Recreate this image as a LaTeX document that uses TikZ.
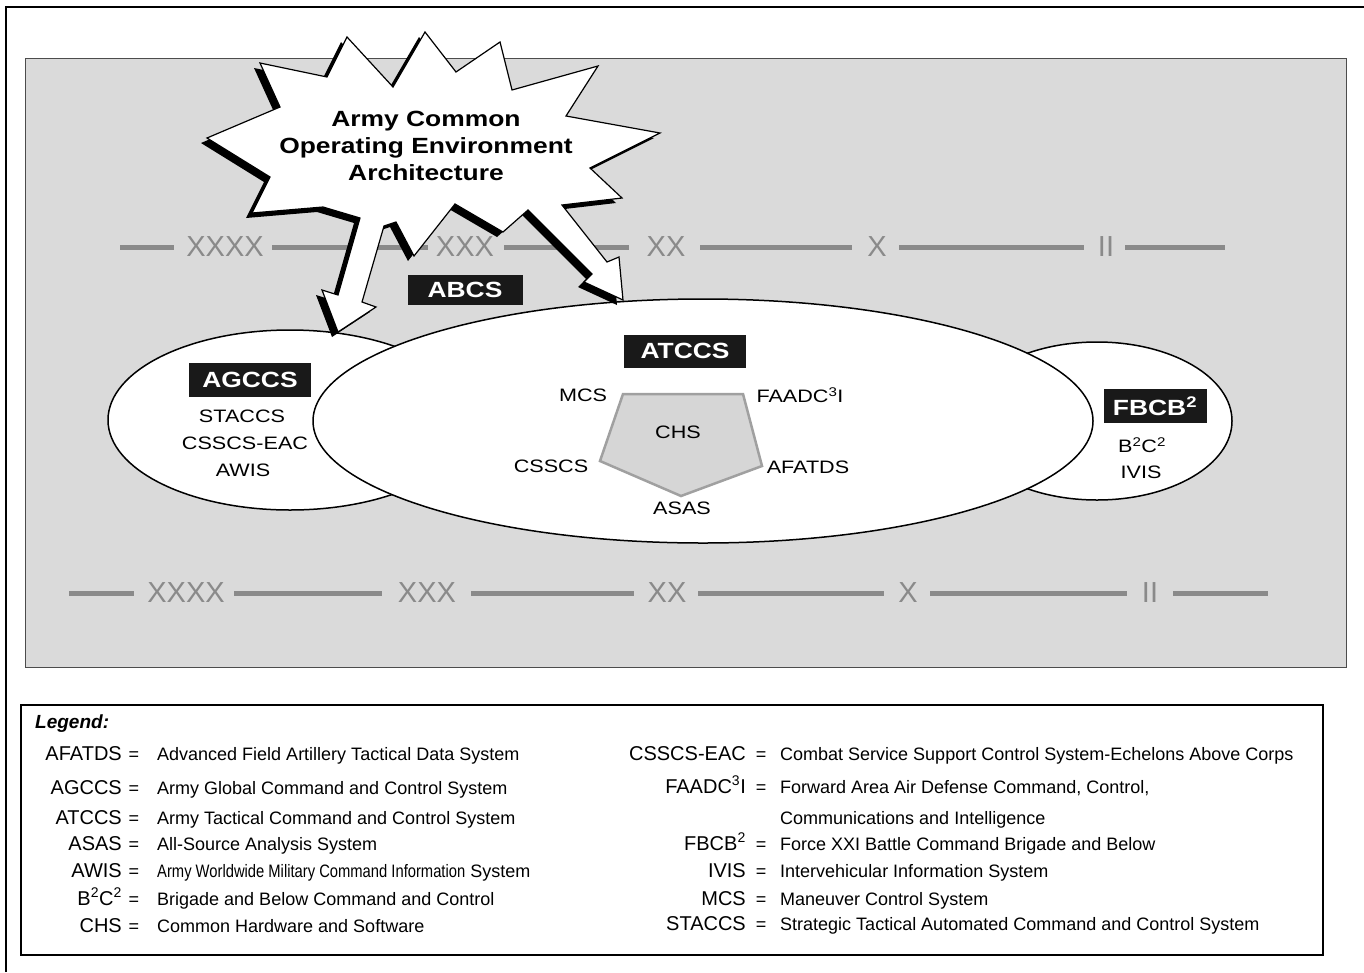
\documentclass[tikz,border=0pt]{standalone}
\usepackage{fontspec}
\usepackage{graphicx}
\setmainfont{Liberation Sans}
\newfontfamily\diagfont[FakeStretch=1.2]{Liberation Sans}
\usetikzlibrary{shapes.geometric}
\definecolor{panelGray}{RGB}{218,218,218}
\definecolor{rankGray}{RGB}{138,138,138}
\definecolor{penGray}{RGB}{160,160,160}
\definecolor{penFill}{RGB}{214,214,214}
\tikzset{
  frame/.style={line width=2.2pt},
  panel/.style={draw=black!70, line width=0.8pt, fill=panelGray},
  sysell/.style={draw, ellipse, line width=1.5pt, fill=white, inner sep=0pt},
  tagbox/.style={fill=black!90, text=white, inner sep=0pt, font=\diagfont\fontsize{22}{22}\selectfont\bfseries},
  sys/.style={inner sep=0pt, font=\diagfont\fontsize{18}{18}\selectfont},
  rank/.style={text=rankGray, inner sep=0pt, font=\fontsize{29}{29}\selectfont},
  rankbar/.style={draw=rankGray, line width=5pt},
  burst/.style={draw, fill=white, line width=1.2pt, line join=miter,
    preaction={fill=black, transform canvas={shift={(-6pt,-5pt)}}}},
  bursttext/.style={align=center, inner sep=0pt, font=\diagfont\fontsize{22}{27}\selectfont\bfseries},
  pentagon/.style={draw=penGray, fill=penFill, line width=2.5pt, line join=miter},
  legendbox/.style={draw, line width=2pt, inner sep=0pt},
  abbr/.style={anchor=base east, inner sep=0pt, font=\fontsize{20}{20}\selectfont},
  eqs/.style={anchor=base, inner sep=0pt, font=\fontsize{18}{18}\selectfont},
  desc/.style={anchor=base west, inner sep=0pt, font=\fontsize{18}{18}\selectfont}
}

\begin{document}
\begin{tikzpicture}[x=1pt,y=1pt]
  \useasboundingbox (0,0) rectangle (1364,-972);
  \draw[frame] (6,-972) -- (6,-7) -- (1364,-7);

  % shaded panel
  \draw[panel] (25,-58) rectangle (1346,-667);

  % echelon rows
  \foreach \a/\b in {120/174, 272/428, 504/629, 700/852, 899/1084, 1125/1225}
    \draw[rankbar] (\a,-247) -- (\b,-247);
  \foreach \t/\x in {XXXX/225, XXX/465, XX/666, X/877, II/1106}
    \node[rank] (top\t) at (\x,-247) {\t};
  \foreach \a/\b in {69/134, 234/382, 471/634, 698/884, 930/1127, 1173/1268}
    \draw[rankbar] (\a,-593) -- (\b,-593);
  \foreach \t/\x in {XXXX/186, XXX/427, XX/667, X/908, II/1150}
    \node[rank] (bot\t) at (\x,-593) {\t};

  % systems
  \node[sysell, minimum width=364, minimum height=180] (agccsell) at (290,-420) {};
  \node[sysell, minimum width=270, minimum height=158] (fbcbell) at (1097,-421) {};
  \node[sysell, minimum width=780, minimum height=244] (atccsell) at (703,-421) {};
  \draw[pentagon] (623,-394) -- (743,-394) -- (762,-466) -- (681,-496) -- (600,-461) -- cycle;

  \node[tagbox, minimum width=122, minimum height=34] (agccs) at (250,-380) {AGCCS};
  \node[sys] (staccs) at (242,-416) {STACCS};
  \node[sys] (csscseac) at (245,-443) {CSSCS-EAC};
  \node[sys] (awis) at (243,-470) {AWIS};

  \node[tagbox, minimum width=122, minimum height=33] (atccs) at (685,-351) {ATCCS};
  \node[sys] (mcs) at (583,-395) {MCS};
  \node[sys] (faadc) at (800,-395) {FAADC\textsuperscript{3}I};
  \node[sys] (chs) at (678,-432) {CHS};
  \node[sys] (csscs) at (551,-466) {CSSCS};
  \node[sys] (afatds) at (808,-467) {AFATDS};
  \node[sys] (asas) at (682,-508) {ASAS};

  \node[tagbox, minimum width=103, minimum height=34] (fbcb) at (1155,-406) {FBCB\textsuperscript{2}};
  \node[sys] (bcc) at (1142,-445) {B\textsuperscript{2}C\textsuperscript{2}};
  \node[sys] (ivis) at (1141,-472) {IVIS};

  % starburst with its two arrows
  \filldraw[burst] (425,-32) -- (456,-72) -- (500,-42) -- (512,-90) -- (598,-66)
    -- (566,-116) -- (660,-133) -- (590,-168) -- (622,-198) -- (562,-205)
    -- (607,-262) -- (619,-257) -- (623,-300) -- (584,-282) -- (592,-274)
    -- (528,-210) -- (503,-232) -- (455,-204) -- (414,-256) -- (396,-222)
    -- (384,-226) -- (362,-302) -- (376,-307) -- (338,-332) -- (322,-290)
    -- (338,-295) -- (360,-218) -- (323,-207) -- (252,-213) -- (270,-177)
    -- (207,-138) -- (280,-107) -- (260,-63) -- (327,-77) -- (347,-37)
    -- (393,-87) -- cycle;
  \node[bursttext] (acoe) at (426,-146) {Army Common\\Operating Environment\\Architecture};
  \node[tagbox, minimum width=115, minimum height=30] (abcs) at (465,-290) {ABCS};

  % legend
  \node[legendbox, minimum width=1302, minimum height=250] (legend) at (672,-830) {};
  \node[anchor=base west, inner sep=0pt, font=\fontsize{19}{19}\selectfont\bfseries\itshape] (legtitle) at (35,-728) {Legend:};

  \foreach \ab/\tx/\y in {AFATDS/Advanced Field Artillery Tactical Data System/760,
      AGCCS/Army Global Command and Control System/794,
      ATCCS/Army Tactical Command and Control System/824,
      ASAS/All-Source Analysis System/850,
      CHS/Common Hardware and Software/932}{
    \node[abbr] (l\ab) at (122,-\y) {\ab};
    \node[eqs] at (134,-\y) {=};
    \node[desc] at (157,-\y) {\tx};
  }
  \node[abbr] (lAWIS) at (122,-877) {AWIS};
  \node[eqs] (eAWIS) at (134,-877) {=};
  \node[desc] (dAWIS) at (157,-877) {\scalebox{0.82}[1]{Army Worldwide Military Command Information} System};
  \node[abbr] (lBCC) at (122,-905) {B\textsuperscript{2}C\textsuperscript{2}};
  \node[eqs] (eBCC) at (134,-905) {=};
  \node[desc] (dBCC) at (157,-905) {Brigade and Below Command and Control};

  \foreach \ab/\tx/\y in {CSSCS-EAC/Combat Service Support Control System-Echelons Above Corps/760,
      IVIS/Intervehicular Information System/877,
      MCS/Maneuver Control System/905,
      STACCS/Strategic Tactical Automated Command and Control System/930}{
    \node[abbr] (r\ab) at (746,-\y) {\ab};
    \node[eqs] at (761,-\y) {=};
    \node[desc] at (780,-\y) {\tx};
  }
  \node[abbr] (rFAADC) at (746,-793) {FAADC\textsuperscript{3}I};
  \node[eqs] (eFAADC) at (761,-793) {=};
  \node[desc] (dFAADC) at (780,-793) {Forward Area Air Defense Command, Control,};
  \node[desc] (dFAADCb) at (780,-824) {Communications and Intelligence};
  \node[abbr] (rFBCB) at (746,-850) {FBCB\textsuperscript{2}};
  \node[eqs] (eFBCB) at (761,-850) {=};
  \node[desc] (dFBCB) at (780,-850) {Force XXI Battle Command Brigade and Below};
\end{tikzpicture}
\end{document}
